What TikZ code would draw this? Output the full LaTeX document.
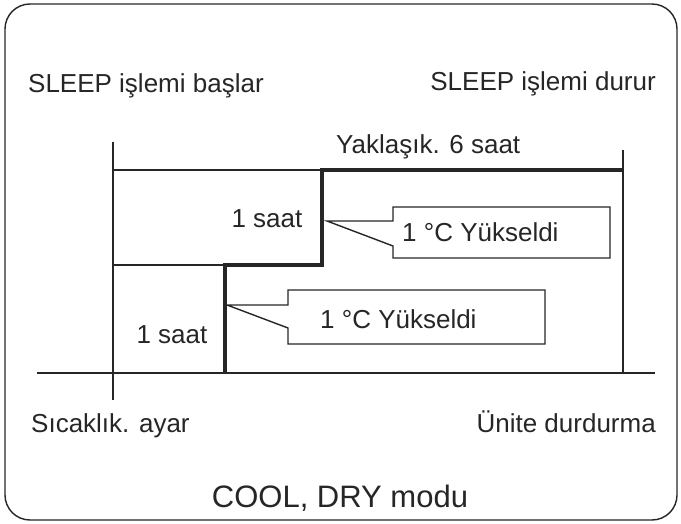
\documentclass[tikz,border=0pt]{standalone}
\usepackage{fontspec}
\setmainfont{Liberation Sans}
\definecolor{ink}{HTML}{262626}
\begin{document}
\begin{tikzpicture}[x=1pt,y=-1pt,
  thinline/.style={line width=1.4pt, draw=ink},
  stepline/.style={line width=3.4pt, draw=ink},
  lbl/.style={text=ink, font=\fontsize{26}{31}\selectfont, inner sep=0pt}]

\useasboundingbox (0,0) rectangle (681,524);

% Parameters
\def\xa{113}  % start line
\def\xb{225}  % first step
\def\xc{322}  % second step
\def\xd{623}  % stop line
\def\yt{170}  % top level
\def\ym{265}  % middle level
\def\yb{373}  % time axis

% Outer frame
\draw[thinline, rounded corners=25pt] (5,4) rectangle (677,520);

% Points of the curve
\coordinate (S0) at (\xb,\yb);
\coordinate (S1) at (\xb,\ym);
\coordinate (S2) at (\xc,\ym);
\coordinate (S3) at (\xc,\yt);
\coordinate (S4) at (\xd,\yt);

% Axis and guide lines
\draw[thinline] (37,\yb) -- (655,\yb);
\draw[thinline] (\xa,142) -- (\xa,400);
\draw[thinline] (\xd,150) -- (\xd,\yb);
\draw[thinline] (\xa,\yt) -- (S3);
\draw[thinline] (\xa,\ym) -- (S1);

% Temperature steps
\draw[stepline] (S0) -- (S1) -- (S2) -- (S3) -- (S4);

% Callouts
\draw[thinline, fill=white] (327,221) -- (393,221) -- (393,207) -- (610,207)
  -- (610,258) -- (393,258) -- (393,246) -- cycle;
\draw[thinline, fill=white] (227,305) -- (288,305) -- (288,290) -- (545,290)
  -- (545,344) -- (288,344) -- (288,328) -- cycle;
\node[lbl, anchor=base west] (up) at (402,242) {1 °C Yükseldi};
\node[lbl, anchor=base west] (lo) at (320,328) {1 °C Yükseldi};

% Labels
\node[lbl, anchor=base west] (start) at (28,93) {SLEEP işlemi başlar};
\node[lbl, anchor=base east] (stop) at (656,91) {SLEEP işlemi durur};
\node[lbl, anchor=base west] (six) at (336,154) {Yaklaşık. 6 saat};
\node[lbl, anchor=base] (h1) at (267,228) {1 saat};
\node[lbl, anchor=base] (h2) at (172,343) {1 saat};
\node[lbl, anchor=base west] (set) at (31,432) {Sıcaklık. ayar};
\node[lbl, anchor=base east] (off) at (656,432) {Ünite durdurma};
\node[lbl, anchor=base, font=\fontsize{31}{37}\selectfont] (mode) at (340,507) {COOL, DRY modu};

\end{tikzpicture}
\end{document}
